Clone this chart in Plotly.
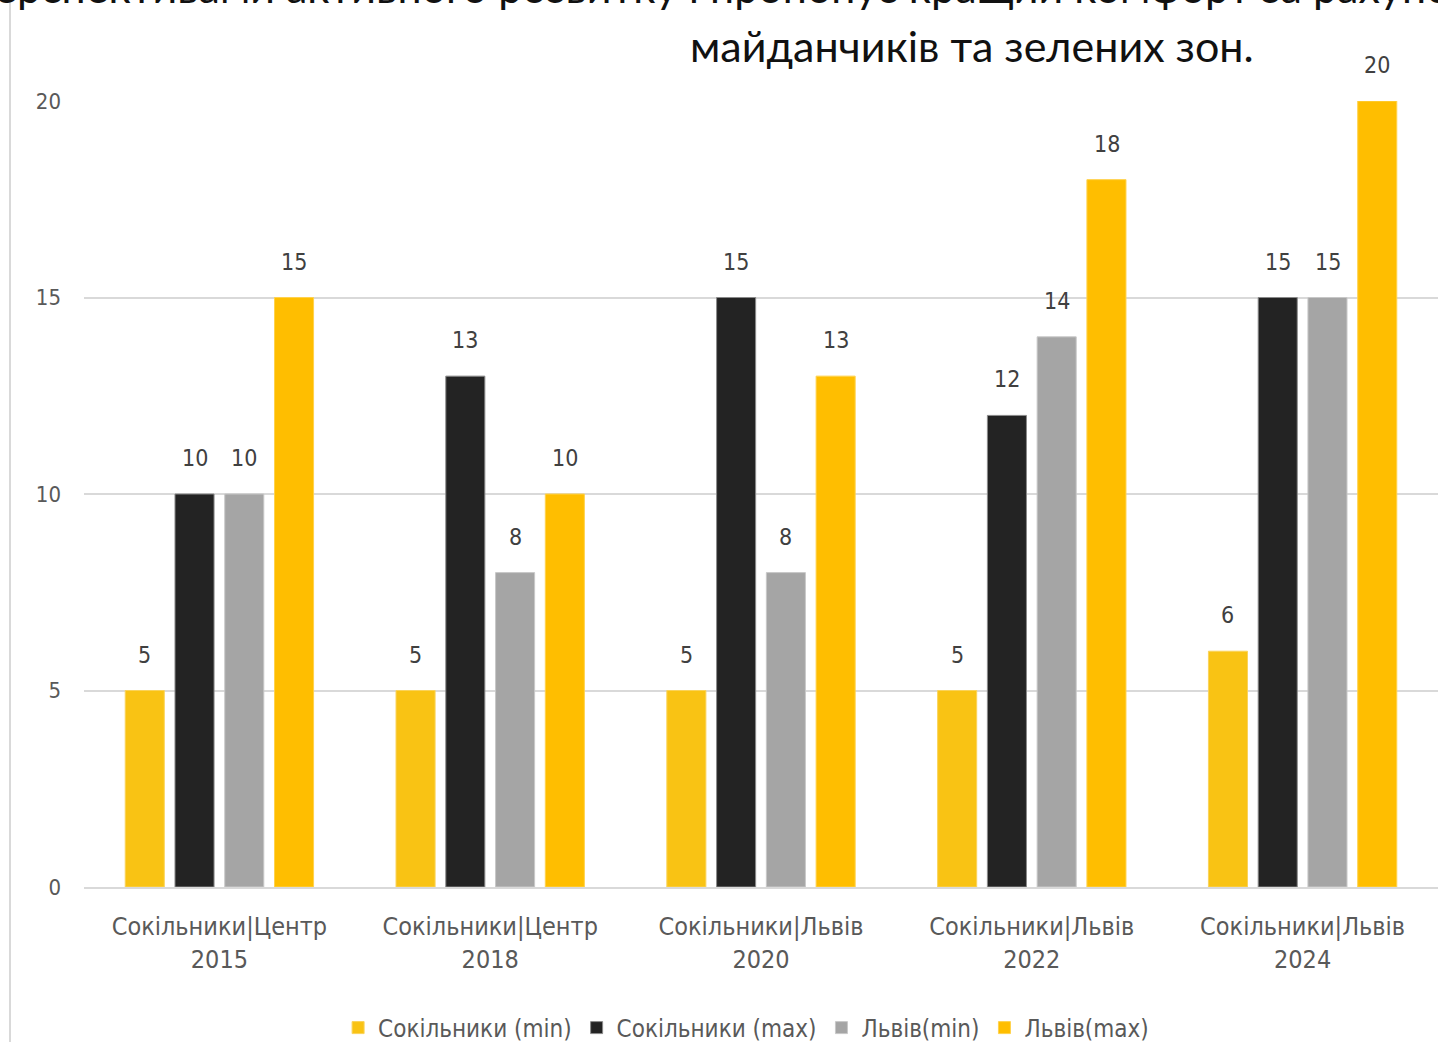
import plotly.graph_objects as go

categories = [
    "Сокільники|Центр<br>2015",
    "Сокільники|Центр<br>2018",
    "Сокільники|Львів<br>2020",
    "Сокільники|Львів<br>2022",
    "Сокільники|Львів<br>2024",
]
series_names = ["Сокільники (min)", "Сокільники (max)", "Львів(min)", "Львів(max)"]
sokilnyky_min = [5, 5, 5, 5, 6]
sokilnyky_max = [10, 13, 15, 12, 15]
lviv_min = [10, 8, 8, 14, 15]
lviv_max = [15, 10, 13, 18, 20]
y_ticks = [0, 5, 10, 15, 20]

title_line1 = "перспективами активного розвитку і пропонує кращий комфорт за рахунок"
title_line2 = "майданчиків та зелених зон."

series_values = [sokilnyky_min, sokilnyky_max, lviv_min, lviv_max]
colors = ["#F9C314", "#232323", "#A5A5A5", "#FFBE00"]
outline = ["#FAD35A", "#8A8A8A", "#C8C8C8", "#FFD24D"]

narrow = "Liberation Sans Narrow, DejaVu Sans Condensed, Arial Narrow, sans-serif"

fig = go.Figure()
for name, vals, c, oc in zip(series_names, series_values, colors, outline):
    fig.add_trace(go.Bar(
        x=categories, y=vals, name=name,
        marker=dict(color=c, line=dict(color=oc, width=1)),
        hoverinfo="skip",
    ))

# value labels
slot_px = 49.8
for i, vals in enumerate(series_values):
    for cat, v in zip(categories, vals):
        fig.add_annotation(
            x=cat, y=v, xref="x", yref="y", text=str(v), showarrow=False,
            xshift=(i - 1.5) * slot_px, yshift=36, yanchor="middle",
            font=dict(family=narrow, size=23, color="#404040"),
        )

plot_left = 84
plot_w = 1438 - plot_left

title_font = dict(family="Lato, Noto Sans, sans-serif", size=43, color="#111111")
fig.add_annotation(
    x=(-32 - plot_left) / plot_w, y=1, xref="paper", yref="paper", xanchor="left", yanchor="middle",
    yshift=115, text=title_line1, showarrow=False, font=title_font,
)
fig.add_annotation(
    x=(972 - plot_left) / plot_w, y=1, xref="paper", yref="paper", xanchor="center", yanchor="middle",
    yshift=56, text=title_line2, showarrow=False, font=title_font,
)

# left border line
fig.add_shape(type="line", xref="paper", yref="paper",
              x0=(10 - plot_left) / plot_w, x1=(10 - plot_left) / plot_w, y0=-0.3, y1=1.3,
              line=dict(color="#D9D9D9", width=2))

fig.update_layout(
    width=1438, height=1042,
    margin=dict(l=plot_left, r=0, t=101, b=155, pad=0),
    paper_bgcolor="white", plot_bgcolor="white",
    barmode="group", bargap=0.265, bargroupgap=0.215,
    showlegend=True,
    legend=dict(orientation="h", x=0.489, xanchor="center",
                yref="container", y=(1042 - 1028) / 1042, yanchor="middle",
                font=dict(family=narrow, size=24, color="#595959"),
                itemwidth=30, tracegroupgap=0),
    xaxis=dict(showgrid=False, showline=True, linecolor="#D9D9D9", linewidth=2,
               tickfont=dict(family=narrow, size=25, color="#595959"),
               ticks="", ticklabelstandoff=16, automargin=False),
    yaxis=dict(range=[0, 20.001], tickvals=y_ticks, showgrid=True, gridcolor="#D9D9D9", gridwidth=2,
               zeroline=False, showline=False, ticks="",
               tickfont=dict(family=narrow, size=22, color="#595959"),
               ticklabelstandoff=22, automargin=False),
)

fig.write_html("out.html")
